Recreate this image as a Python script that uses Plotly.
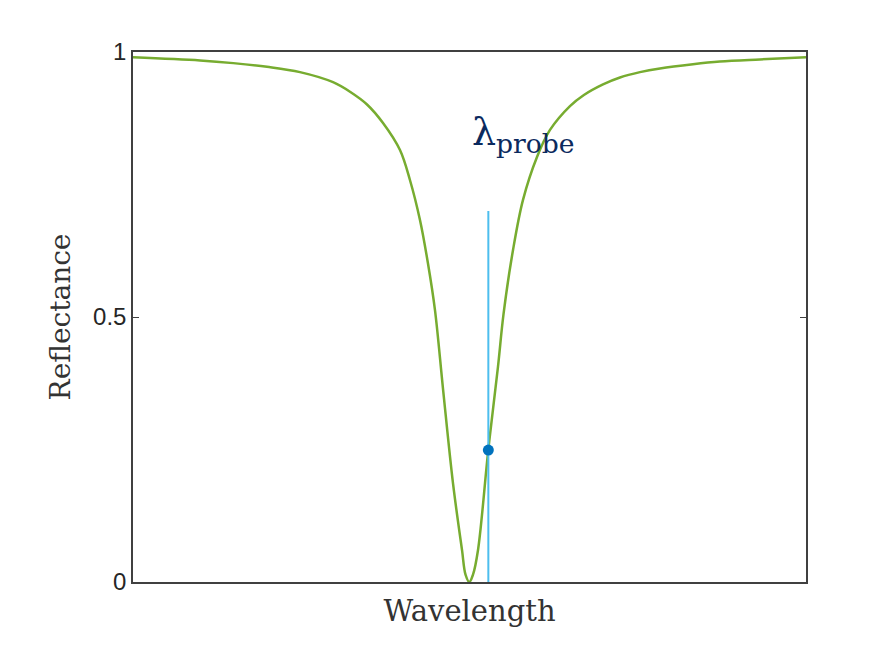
import plotly.graph_objects as go

# Reflectance spectrum (arbitrary wavelength units)
wavelength = [0, 9.96, 14.9, 19.91, 24.81, 29.72, 32.24, 34.77, 37.15, 39.67, 41.16,
              42.64, 43.83, 44.87, 46.06, 47.55, 48.89, 49.41, 49.97, 50.52, 51.26,
              52.79, 54.23, 55.05, 56.46, 57.95, 60.03, 61.96, 64.93, 67.0, 69.84,
              72.36, 75.33, 78.3, 83.21, 87.2, 93.16, 100]
reflectance = [0.990, 0.984, 0.979, 0.972, 0.962, 0.943, 0.925, 0.901, 0.866, 0.815,
               0.758, 0.683, 0.601, 0.513, 0.365, 0.186, 0.060, 0.014, 0.0, 0.014,
               0.060, 0.249, 0.406, 0.505, 0.626, 0.721, 0.802, 0.853, 0.898, 0.919,
               0.939, 0.952, 0.962, 0.969, 0.977, 0.982, 0.986, 0.990]

probe_wavelength = 52.8
probe_line_top = 0.70
probe_reflectance = 0.249

y_ticks = [0, 0.5, 1]
y_tick_labels = ["0", "0.5", "1"]

fig = go.Figure()
fig.add_trace(go.Scatter(x=wavelength, y=reflectance, mode="lines",
                         line=dict(color="#77ac30", width=2.5, shape="spline", smoothing=1.0),
                         hoverinfo="skip", showlegend=False))
fig.add_trace(go.Scatter(x=[probe_wavelength, probe_wavelength], y=[0, probe_line_top],
                         mode="lines", line=dict(color="#4dbeee", width=2),
                         showlegend=False))
fig.add_trace(go.Scatter(x=[probe_wavelength], y=[probe_reflectance], mode="markers",
                         marker=dict(color="#0072bd", size=11), showlegend=False))

fig.add_annotation(x=50.0, y=0.895, xref="x", yref="y", xanchor="left", yanchor="top",
                   text="λ<sub>probe</sub>", showarrow=False,
                   font=dict(family="DejaVu Serif", size=38, color="#0b2a5e"))

axis_line = "#404040"
fig.update_layout(
    width=882, height=655,
    margin=dict(l=133, r=76, t=52, b=73),
    paper_bgcolor="white", plot_bgcolor="white",
    font=dict(family="Liberation Sans", size=24, color="#262626"),
    xaxis=dict(range=[0, 100], showgrid=False, zeroline=False, showticklabels=False,
               ticks="", showline=True, linecolor=axis_line, linewidth=1.5, mirror=True,
               title=dict(text="Wavelength", standoff=18,
                          font=dict(family="DejaVu Serif", size=29, color="#333333"))),
    yaxis=dict(range=[0, 1], showgrid=False, zeroline=False,
               tickmode="array", tickvals=y_ticks,
               ticktext=[f"<span style='font-size:24px'>{t}</span>" for t in y_tick_labels],
               ticks="inside", ticklen=6, tickcolor=axis_line, tickwidth=1.2,
               showline=True, linecolor=axis_line, linewidth=1.5, mirror="ticks",
               title=dict(text="Reflectance", standoff=14,
                          font=dict(family="DejaVu Serif", size=28, color="#333333"))),
)
fig.update_yaxes(tickfont=dict(family="Liberation Sans", size=24, color="#262626"))

fig.write_html("out.html")
